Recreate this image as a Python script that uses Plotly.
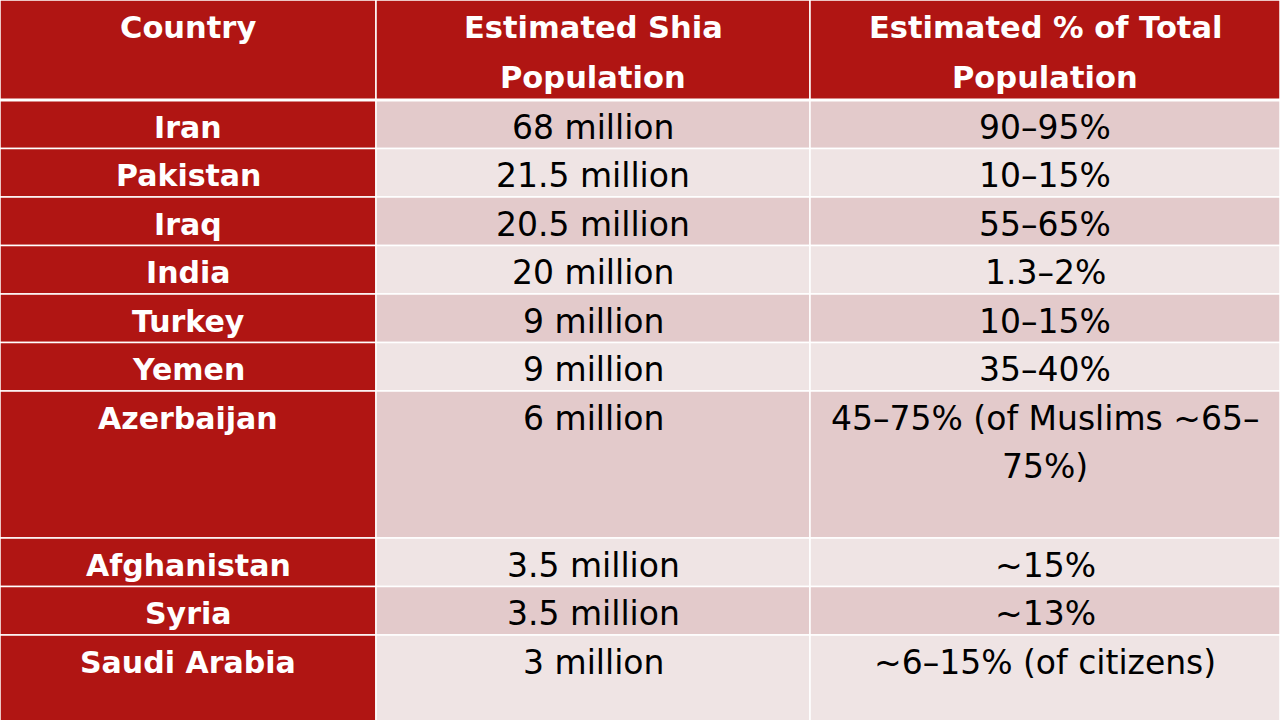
import plotly.graph_objects as go

# table data
headers = ["Country", "Estimated Shia<br>Population",
           "Estimated % of Total<br>Population"]
countries = ["Iran", "Pakistan", "Iraq", "India", "Turkey", "Yemen",
             "Azerbaijan", "Afghanistan", "Syria", "Saudi Arabia"]
shia_pop = ["68 million", "21.5 million", "20.5 million", "20 million",
            "9 million", "9 million", "6 million", "3.5 million",
            "3.5 million", "3 million"]
pct_total = ["90–95%", "10–15%", "55–65%", "1.3–2%", "10–15%", "35–40%",
             "45–75% (of Muslims ~65–<br>75%)", "~15%", "~13%",
             "~6–15% (of citizens)"]

# layout of the grid (pixels)
col_w = [376, 434, 470]
header_h = 100
row_h = [48.5] * 6 + [147, 48.5, 48.5, 100]

red = "#B01513"
bands = ["#E3CACB", "#EFE4E4"]

x_edges = [0]
for w in col_w:
    x_edges.append(x_edges[-1] + w)
y_edges = [0, header_h]
for h in row_h:
    y_edges.append(y_edges[-1] + h)

shapes = []
annotations = []


def add_text(txt, col, top, first, gap, bold, color, size):
    xc = (x_edges[col] + x_edges[col + 1]) / 2
    for i, line in enumerate(txt.split("<br>")):
        annotations.append(dict(
            x=xc, y=top + first + i * gap, xref="x", yref="y",
            text=line, showarrow=False, xanchor="center", yanchor="middle",
            font=dict(family="DejaVu Sans", size=size, color=color,
                      weight="bold" if bold else "normal")))


# header row
for c, h in enumerate(headers):
    shapes.append(dict(type="rect", xref="x", yref="y",
                       x0=x_edges[c], x1=x_edges[c + 1], y0=0, y1=header_h,
                       fillcolor=red, line=dict(color="white", width=1.5),
                       layer="below"))
    add_text(h, c, 0, 27, 50, True, "white", 30.5)

# body rows
columns = [countries, shia_pop, pct_total]
for r in range(len(countries)):
    top, bot = y_edges[r + 1], y_edges[r + 2]
    for c, col in enumerate(columns):
        fill = red if c == 0 else bands[r % 2]
        shapes.append(dict(type="rect", xref="x", yref="y",
                           x0=x_edges[c], x1=x_edges[c + 1], y0=top, y1=bot,
                           fillcolor=fill, line=dict(color="white", width=1.5),
                           layer="below"))
        if c == 0:
            add_text(col[r], c, top, 27, 48, True, "white", 30)
        else:
            add_text(col[r], c, top, 27, 48, False, "black", 33)

# thick rule under the header
shapes.append(dict(type="line", xref="x", yref="y", x0=0, x1=x_edges[-1],
                   y0=header_h, y1=header_h, line=dict(color="white", width=3)))

fig = go.Figure()
fig.update_layout(
    width=1280, height=720,
    margin=dict(l=0, r=0, t=0, b=0),
    paper_bgcolor="white", plot_bgcolor="white",
    shapes=shapes, annotations=annotations,
    xaxis=dict(range=[0, 1280], visible=False, fixedrange=True),
    yaxis=dict(range=[720, 0], visible=False, fixedrange=True),
    showlegend=False,
)

fig.write_html("out.html", config={"displayModeBar": False},
               post_script="document.body.style.margin='0';")
